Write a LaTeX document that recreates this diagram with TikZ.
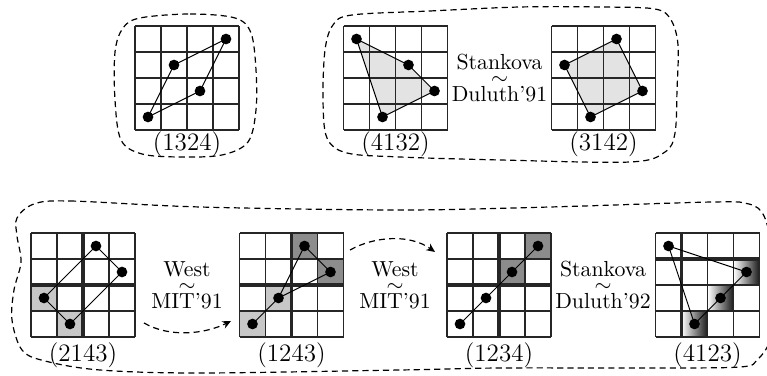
\documentclass[tikz,border=0pt]{standalone}
\usetikzlibrary{arrows.meta}
\tikzset{
  gridline/.style={line width=0.8pt, black!85},
  blockline/.style={line width=1.6pt, black!85},
  dot/.style={circle, fill=black, inner sep=0pt, minimum size=4.9pt},
  link/.style={line width=0.45pt},
  boundary/.style={line width=0.55pt, dash pattern=on 2.8pt off 1.9pt},
  flow/.style={line width=0.55pt, dash pattern=on 2.8pt off 1.9pt, -{Stealth[length=4pt,width=3.6pt]}},
  lab/.style={font=\fontsize{11.5}{14}\selectfont, inner sep=0pt, anchor=north},
  ann/.style={font=\fontsize{10}{12}\selectfont, inner sep=0pt, anchor=center, align=center},
  polyfill/.style={fill=black!11},
  lightcell/.style={fill=black!22},
  darkcell/.style={fill=black!45},
  gradcell/.style={left color=white, right color=black!90},
}
\newcommand{\gridlines}{%
  \foreach \i in {0,...,4} {\draw[gridline] (\i,0) -- (\i,4); \draw[gridline] (0,\i) -- (4,\i);}}
\newcommand{\pdots}[5]{%
  \node[dot] (#1a) at (0.5,#2-0.5) {};
  \node[dot] (#1b) at (1.5,#3-0.5) {};
  \node[dot] (#1c) at (2.5,#4-0.5) {};
  \node[dot] (#1d) at (3.5,#5-0.5) {};}
\newcommand{\simstack}[2]{#1\\[-5.1pt]$\sim$\\[-4.45pt]#2}
\begin{document}
\begin{tikzpicture}[x=0.4587pt, y=-0.4587pt]
\useasboundingbox (0,0) rectangle (767,376);
\clip (0,0) rectangle (767,376);

% ---------- (1324)
\begin{scope}[shift={(135,130)}, x=11.926pt, y=11.926pt]
  \gridlines
  \pdots{p}{1}{3}{2}{4}
  \draw[link] (pa.center) -- (pb.center) -- (pd.center) -- (pc.center) -- cycle;
\end{scope}
\node[lab] (l1324) at (187,131.5) {(1324)};

% ---------- (4132)
\begin{scope}[shift={(343.5,130)}, x=11.926pt, y=11.926pt]
  \fill[polyfill] (0.5,3.5) -- (2.5,2.5) -- (3.5,1.5) -- (1.5,0.5) -- cycle;
  \gridlines
  \pdots{q}{4}{1}{3}{2}
  \draw[link] (qa.center) -- (qc.center) -- (qd.center) -- (qb.center) -- cycle;
\end{scope}
\node[lab] (l4132) at (395.5,131.5) {(4132)};

% ---------- (3142)
\begin{scope}[shift={(551.5,130)}, x=11.926pt, y=11.926pt]
  \fill[polyfill] (0.5,2.5) -- (2.5,3.5) -- (3.5,1.5) -- (1.5,0.5) -- cycle;
  \gridlines
  \pdots{r}{3}{1}{4}{2}
  \draw[link] (ra.center) -- (rc.center) -- (rd.center) -- (rb.center) -- cycle;
\end{scope}
\node[lab] (l3142) at (603.5,131.5) {(3142)};

\node[ann] (s1) at (499.5,78.2) {\simstack{Stankova}{Duluth'91}};

% ---------- (2143)
\begin{scope}[shift={(31,337)}, x=11.926pt, y=11.926pt]
  \fill[lightcell] (0,1) rectangle (1,2);
  \fill[lightcell] (1,0) rectangle (2,1);
  \gridlines
  \draw[blockline] (2,0) -- (2,4);
  \draw[blockline] (0,2) -- (4,2);
  \pdots{s}{2}{1}{4}{3}
  \draw[link] (sa.center) -- (sb.center) -- (sd.center) -- (sc.center) -- cycle;
\end{scope}
\node[lab] (l2143) at (83,342) {(2143)};

% ---------- (1243)
\begin{scope}[shift={(239.5,337)}, x=11.926pt, y=11.926pt]
  \fill[lightcell] (0,0) rectangle (1,1);
  \fill[lightcell] (1,1) rectangle (2,2);
  \fill[darkcell] (2,3) rectangle (3,4);
  \fill[darkcell] (3,2) rectangle (4,3);
  \gridlines
  \draw[blockline] (2,0) -- (2,4);
  \draw[blockline] (0,2) -- (4,2);
  \pdots{t}{1}{2}{4}{3}
  \draw[link] (ta.center) -- (tb.center) -- (tc.center) -- (td.center) -- (tb.center);
\end{scope}
\node[lab] (l1243) at (291.5,342) {(1243)};

% ---------- (1234)
\begin{scope}[shift={(447,337)}, x=11.926pt, y=11.926pt]
  \fill[darkcell] (2,2) rectangle (3,3);
  \fill[darkcell] (3,3) rectangle (4,4);
  \gridlines
  \draw[blockline] (2,0) -- (2,4);
  \draw[blockline] (0,2) -- (4,2);
  \pdots{u}{1}{2}{3}{4}
  \draw[link] (ua.center) -- (ub.center) -- (uc.center) -- (ud.center);
\end{scope}
\node[lab] (l1234) at (499,342) {(1234)};

% ---------- (4123)
\begin{scope}[shift={(655.5,337)}, x=11.926pt, y=11.926pt]
  \shade[gradcell] (1,0) rectangle (2,1);
  \shade[gradcell] (2,1) rectangle (3,2);
  \shade[gradcell] (3,2) rectangle (4,3);
  \gridlines
  \draw[blockline] (1,0) -- (1,4);
  \draw[blockline] (0,3) -- (4,3);
  \pdots{v}{4}{1}{2}{3}
  \draw[link] (va.center) -- (vd.center) -- (vc.center) -- (vb.center) -- cycle;
\end{scope}
\node[lab] (l4123) at (707.5,342) {(4123)};

% ---------- annotations bottom
\node[ann] (w1) at (187,285.2) {\simstack{West}{MIT'91}};
\node[ann] (w2) at (395,285.2) {\simstack{West}{MIT'91}};
\node[ann] (s2) at (603,285.2) {\simstack{Stankova}{Duluth'92}};

% ---------- arrows
\coordinate (f1s) at (144,323);
\coordinate (f1e) at (231,321);
\coordinate (f2s) at (350,250);
\coordinate (f2e) at (435,252);
\draw[flow] (f1s) .. controls (170,338) and (205,334) .. (f1e);
\draw[flow] (f2s) .. controls (375,236) and (410,234) .. (f2e);

% ---------- boundaries
\draw[boundary] plot[smooth cycle, tension=0.55] coordinates {
  (140,18) (190,14) (235,18) (251,33) (256,70) (256,110) (248,142) (222,155)
  (180,157) (142,154) (121,140) (115,100) (115,52) (123,28)};
\draw[boundary] plot[smooth cycle, tension=0.55] coordinates {
  (352,15) (430,11) (520,7) (600,7) (655,9) (671,20) (678,45) (677,90)
  (675,133) (665,152) (630,162) (500,160) (400,157) (347,153) (327,138)
  (323,100) (325,50) (333,25)};
\draw[boundary] plot[smooth cycle, tension=0.55] coordinates {
  (34,204) (70,201) (200,207) (400,210) (550,207) (713,202) (749,204) (764,216)
  (772,250) (774,300) (770,340) (757,360) (740,367) (650,368) (500,368)
  (400,370) (200,373) (100,370) (45,361) (22,350) (12,320) (14,290)
  (21,262) (17,236) (17,218)};
\end{tikzpicture}
\end{document}
